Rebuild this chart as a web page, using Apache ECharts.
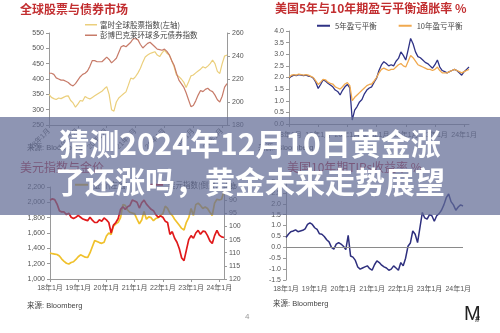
<!DOCTYPE html>
<html><head><meta charset="utf-8">
<script src="https://cdn.jsdelivr.net/npm/echarts@6/dist/echarts.min.js"></script>
<style>html,body{margin:0;padding:0;background:#fff}#c{width:500px;height:333px}</style>
</head><body><div id="c"></div>
<script>
// Monthly categories 2018-01 .. 2024-03
var months = [];
for (var y = 18; y <= 24; y++) for (var m = 1; m <= 12; m++) { if (y === 24 && m > 3) break; months.push(y + '年' + m + '月'); }

// Top-left: global equities (left) & bonds (right)
var ftseGlobal = [350,340,336,333,338,336,340,344,345,330,322,308,318,330,328,343,338,335,340,345,350,355,360,368,375,350,300,295,325,338,345,352,358,380,403,400,408,420,435,455,472,478,483,486,489,478,473,485,494,484,478,460,440,413,408,400,390,372,390,410,413,420,426,432,440,436,442,450,462,450,425,418,450,475,478];
var bondAgg = [225,225,224,221,220,219,219,218,217,215,214,216,219,222,224,225,227,231,236,236,235,235,235,237,239,237,234,236,238,243,248,249,248,250,252,255,255,254,250,247,249,251,252,250,248,246,245.5,245,246,244,241,236,232,225,219,216,213,208,202,196,197,201,206,210,209,211,212,210,209,206,202,200,205,213,216];

// Top-right: breakeven inflation
var be5y = [1.97,2.05,2.1,2.08,2.12,2.1,2.08,2.1,2.06,2.04,1.97,1.8,1.53,1.7,1.89,1.85,1.75,1.68,1.6,1.46,1.4,1.25,1.45,1.6,1.7,1.55,0.17,0.6,0.75,0.95,1.05,1.3,1.46,1.55,1.6,1.8,1.97,2.3,2.54,2.68,2.6,2.5,2.55,2.5,2.7,2.82,3.1,2.95,2.75,3.2,3.68,3.45,3.1,2.9,2.85,2.75,2.65,2.6,2.5,2.4,2.55,2.75,2.45,2.3,2.25,2.2,2.25,2.3,2.35,2.3,2.2,2.1,2.25,2.35,2.45];
var be10y = [2.0,2.1,2.12,2.1,2.15,2.12,2.1,2.12,2.1,2.05,2.0,1.85,1.7,1.8,1.92,1.9,1.8,1.75,1.72,1.6,1.55,1.5,1.6,1.72,1.78,1.65,1.0,1.15,1.25,1.35,1.45,1.55,1.65,1.7,1.72,1.85,2.0,2.2,2.35,2.4,2.35,2.3,2.35,2.35,2.45,2.55,2.6,2.5,2.45,2.7,2.95,2.85,2.7,2.55,2.5,2.45,2.4,2.35,2.35,2.3,2.35,2.45,2.3,2.2,2.2,2.2,2.25,2.3,2.35,2.3,2.25,2.2,2.25,2.3,2.35];

// Bottom-left: gold (left) & dollar index inverted (right)
var goldPrice = [1340,1330,1325,1320,1300,1260,1230,1205,1195,1215,1225,1255,1290,1315,1300,1285,1280,1340,1420,1500,1490,1475,1465,1480,1560,1600,1580,1690,1720,1740,1800,1970,1960,1900,1870,1860,1850,1780,1720,1770,1880,1780,1810,1800,1760,1790,1800,1830,1850,1950,1920,1860,1830,1780,1740,1700,1660,1640,1740,1800,1920,1830,1970,1990,1960,1920,1940,1920,1870,1830,1990,2040,2030,2040,2150];
var dollarIdx = [90,89.5,89.8,91.5,94,94.5,94.5,95.5,95,96.5,97,96.5,95.8,96.5,97.2,97.5,97.8,96.5,97.6,98.5,98.5,97.5,98,96.8,97.5,98.5,102.5,99.5,98.5,97,93.5,92.5,93.5,92.5,92,90,90.3,90.8,93,91,90,91.5,92.5,93.5,94,95.5,96.5,96,96.5,98,98.5,103,102,104.5,106,108.5,112,113,109,105,103.5,104.5,102.5,101.5,103,101.8,102,103.5,105.5,106.5,103.5,101.5,103.3,104,104.2];

// Bottom-right: 10y TIPS yield
var tips10y = [0.45,0.6,0.72,0.75,0.8,0.72,0.75,0.78,0.85,1.05,1.12,1.05,0.9,0.82,0.62,0.6,0.5,0.35,0.25,0.0,-0.08,0.15,0.22,0.15,0.05,-0.1,0.55,-0.4,-0.45,-0.6,-0.9,-1.0,-0.95,-0.9,-0.85,-0.98,-1.05,-0.8,-0.62,-0.7,-0.82,-0.9,-0.95,-1.05,-1.0,-0.85,-0.95,-1.05,-0.7,-0.85,-0.5,0.05,0.2,0.75,0.6,0.22,0.9,1.6,1.35,1.3,1.5,1.45,1.2,1.45,1.55,1.7,1.95,2.28,2.45,2.1,1.95,1.7,1.85,1.95,1.9];

var FONT = "'Liberation Sans','Noto Sans CJK SC',sans-serif";
var CJK = "'Noto Sans CJK SC',sans-serif";
var axisGray = '#9a9a9a';
var lbl = {fontSize: 7, color: '#555', fontFamily: FONT};

function xAx(grid, extra) {
  var o = {type: 'category', gridIndex: grid, data: months, boundaryGap: false,
    axisLine: {lineStyle: {color: axisGray}}, axisTick: {show: true, interval: 11, length: 3, lineStyle: {color: axisGray}},
    axisLabel: Object.assign({interval: 11, margin: 6}, lbl), splitLine: {show: false}};
  return Object.assign(o, extra || {});
}
function yAx(grid, min, max, itv, extra) {
  var o = {type: 'value', gridIndex: grid, min: min, max: max, interval: itv,
    axisLine: {show: true, lineStyle: {color: axisGray}}, axisTick: {show: true, length: 3, lineStyle: {color: axisGray}},
    axisLabel: Object.assign({margin: 5}, lbl), splitLine: {show: false}};
  return Object.assign(o, extra || {});
}
function line(name, x, y, data, color, w) {
  return {name: name, type: 'line', xAxisIndex: x, yAxisIndex: y, data: data, symbol: 'none',
    lineStyle: {color: color, width: w}, itemStyle: {color: color}, animation: false};
}

var chart = echarts.init(document.getElementById('c'), null, {renderer: 'canvas'});
var tips = line('美国10年期TIPs收益率', 3, 5, tips10y, '#2e2f7e', 1.5);
tips.markLine = {silent: true, symbol: 'none', label: {show: false}, animation: false,
  lineStyle: {color: '#8a8a8a', width: 1, type: 'solid'}, data: [{yAxis: 0}]};

chart.setOption({
  animation: false,
  textStyle: {fontFamily: FONT},
  grid: [
    {left: 49, top: 33, width: 178, height: 92},
    {left: 289, top: 31, width: 180, height: 93},
    {left: 50, top: 187, width: 174, height: 92},
    {left: 286, top: 182, width: 177, height: 98}
  ],
  xAxis: [
    xAx(0, {axisLabel: Object.assign({interval: 11, margin: 5, rotate: 45}, lbl)}),
    xAx(1, {axisLabel: Object.assign({interval: 11, margin: 8}, lbl)}),
    xAx(2),
    xAx(3, {axisLine: {show: false}, axisTick: {show: false}, axisLabel: Object.assign({interval: 11, margin: 6}, lbl)})
  ],
  yAxis: [
    yAx(0, 250, 550, 50),
    yAx(0, 180, 260, 20, {position: 'right'}),
    yAx(1, 0, 4, 0.5, {axisLabel: Object.assign({margin: 5, formatter: function (v) { return v.toFixed(1); }}, lbl)}),
    yAx(2, 1000, 2200, 200, {axisLabel: Object.assign({margin: 5, formatter: function (v) { return v.toLocaleString('en-US'); }}, lbl)}),
    yAx(2, 85, 120, 5, {position: 'right', inverse: true}),
    yAx(3, -1.5, 3.0, 0.5, {axisLabel: Object.assign({margin: 5, formatter: function (v) { return v.toFixed(1); }}, lbl)})
  ],
  legend: [
    {data: ['富时全球股票指数(左轴)', '彭博巴克莱环球多元债券指数'], orient: 'vertical', left: 80, top: 16, itemGap: 3,
      itemWidth: 12, itemHeight: 1.5, icon: 'rect', textStyle: {fontSize: 7.5, color: '#444', fontFamily: CJK, padding: [0, 0, 0, -2]}},
    {data: ['5年盈亏平衡', '10年盈亏平衡'], orient: 'horizontal', left: 312, top: 17, itemGap: 22,
      itemWidth: 13, itemHeight: 2, icon: 'rect', textStyle: {fontSize: 7.5, color: '#444', fontFamily: CJK}},
    {data: ['金价(左轴)', '美元指数(倒置,右轴)'], orient: 'horizontal', left: 70, top: 176, itemGap: 22,
      itemWidth: 13, itemHeight: 2, icon: 'rect', textStyle: {fontSize: 7.5, color: '#444', fontFamily: CJK}}
  ],
  series: [
    line('富时全球股票指数(左轴)', 0, 0, ftseGlobal, '#ebcf7c', 1.2),
    line('彭博巴克莱环球多元债券指数', 0, 1, bondAgg, '#c77b69', 1.2),
    line('5年盈亏平衡', 1, 2, be5y, '#2f3285', 1.3),
    line('10年盈亏平衡', 1, 2, be10y, '#f0a94f', 1.3),
    line('金价(左轴)', 2, 3, goldPrice, '#f0c12c', 1.7),
    line('美元指数(倒置,右轴)', 2, 4, dollarIdx, '#e0191b', 1.7),
    tips
  ],
  graphic: [
    {type: 'text', left: 20, top: 3, z: 50, style: {text: '全球股票与债券市场', fill: '#c22e30', font: 'bold 12px ' + CJK}},
    {type: 'text', left: 275, top: 2, z: 50, style: {text: '美国5年与10年期盈亏平衡通胀率 %', fill: '#c22e30', font: 'bold 12px ' + CJK}},
    {type: 'text', left: 20, top: 161, z: 50, style: {text: '美元指数与金价', fill: '#b32a3a', font: '12px ' + CJK}},
    {type: 'text', left: 287, top: 161, z: 50, style: {text: '美国10年期TIPs收益率 %', fill: '#b32a3a', font: '12px ' + CJK}},
    {type: 'text', left: 27, top: 144, z: 50, style: {text: '来源: Bloomberg', fill: '#444', font: '7.5px ' + FONT}},
    {type: 'text', left: 258, top: 144, z: 50, style: {text: '来源: Bloomberg', fill: '#444', font: '7.5px ' + FONT}},
    {type: 'text', left: 27, top: 302, z: 50, style: {text: '来源: Bloomberg', fill: '#444', font: '7.5px ' + FONT}},
    {type: 'text', left: 273, top: 300, z: 50, style: {text: '来源: Bloomberg', fill: '#444', font: '7.5px ' + FONT}},
    {type: 'text', left: 245, top: 313, z: 50, style: {text: '4', fill: '#999', font: '8px ' + FONT}},
    {type: 'text', left: 464, top: 304, z: 50, style: {text: 'M', fill: '#222', font: '20px ' + FONT}},
    {type: 'text', left: 475, top: 315, z: 51, style: {text: '#', fill: '#222', font: 'bold 9px ' + FONT}},
    {type: 'rect', z: 100, shape: {x: 0, y: 117, width: 500, height: 98}, style: {fill: 'rgba(98,108,150,0.72)'}},
    {type: 'text', z: 101, left: 'center', top: 129, style: {text: '猜测2024年12月10日黄金涨', fill: '#fff', font: 'bold 30px ' + CJK,
      shadowColor: 'rgba(0,0,0,0.25)', shadowBlur: 2}},
    {type: 'text', z: 101, left: 'center', top: 167, style: {text: '了还涨吗，黄金未来走势展望', fill: '#fff', font: 'bold 30px ' + CJK,
      shadowColor: 'rgba(0,0,0,0.25)', shadowBlur: 2}}
  ]
});
</script></body></html>
